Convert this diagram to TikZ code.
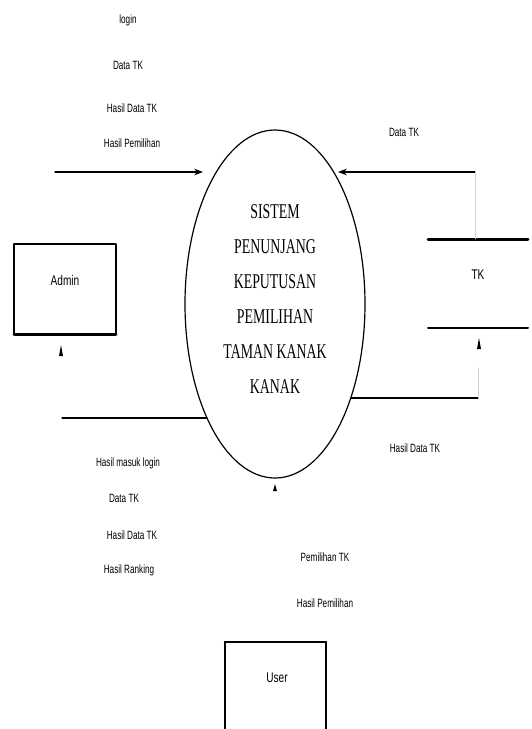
\documentclass[tikz,border=0pt]{standalone}
\usepackage{fontspec}
\setmainfont{Liberation Serif}
\newfontfamily\lblfont{Liberation Sans}
\usetikzlibrary{arrows.meta, shapes.geometric}

\begin{document}
\begin{tikzpicture}[>=Stealth, line cap=round, line join=round, x=1pt, y=-1pt,
    lbl/.style={font=\lblfont\fontsize{12}{12}\selectfont, xscale=0.68, inner sep=0pt},
    ent/.style={font=\lblfont\fontsize{14}{14}\selectfont, xscale=0.72, inner sep=0pt},
    flow/.style={line width=1.3pt},
    faint/.style={gray!35, line width=0.8pt},
    tipmark/.style={fill=black}]

    % ── Page (pixel grid, y downwards) ────────────────────────────────────────
    \useasboundingbox (0,0) rectangle (531,729);

    % ── Process (drawn first) ─────────────────────────────────────────────────
    \node[draw, line width=1.2pt, ellipse, minimum width=180, minimum height=348,
          inner sep=0pt] (proc) at (275,304) {};
    \node[font=\fontsize{21}{35}\selectfont, xscale=0.66, align=center]
        (title) at (275,299)
        {SISTEM\\PENUNJANG\\KEPUTUSAN\\PEMILIHAN\\TAMAN KANAK\\KANAK};

    % ── Entities ──────────────────────────────────────────────────────────────
    % Admin
    \draw[line width=1.6pt] (14,244) rectangle (116,334);
    \draw[line width=3pt] (14,334) -- (116,334);
    \node[ent] (admin) at (65,280) {Admin};

    % User (cut off at the bottom)
    \draw[line width=1.6pt] (225,742) -- (225,642) -- (326,642) -- (326,742);
    \draw[line width=2.4pt] (225,642) -- (326,642);
    \node[ent] (user) at (277,678) {User};

    % Data store TK
    \draw[line width=3pt] (428,239) -- (528,239);
    \draw[line width=2pt] (428,328) -- (528,328);
    \node[ent] (tk) at (478,275) {TK};

    % ── Flow ends ─────────────────────────────────────────────────────────────
    \coordinate (inL)  at (55,172);
    \coordinate (tipL) at (203,172);
    \coordinate (inR)  at (475,172);
    \coordinate (tipR) at (338,172);
    \coordinate (stTop) at (475,239);
    \coordinate (outR) at (351,398);
    \coordinate (cnR)  at (478,398);
    \coordinate (upR)  at (478,368);
    \coordinate (outL) at (207,418);
    \coordinate (endL) at (62,418);

    % ── Flows ─────────────────────────────────────────────────────────────────
    \draw[flow, ->] (inL) -- (tipL);
    \draw[flow, ->] (inR) -- (tipR);
    \draw[faint] (inR) -- (stTop);
    \draw[flow] (outR) -- (cnR);
    \draw[faint] (cnR) -- (upR);
    \draw[flow] (outL) -- (endL);

    % small up marks
    \fill[tipmark] (59,356) -- (61,345) -- (63,356) -- cycle;
    \fill[tipmark] (477,349) -- (479,338) -- (481,349) -- cycle;
    \fill[tipmark] (273,491) -- (275,484) -- (277,491) -- cycle;

    % ── Flow labels ───────────────────────────────────────────────────────────
    \node[lbl] (l1) at (128,20)  {login};
    \node[lbl] (l2) at (128,65)  {Data TK};
    \node[lbl] (l3) at (132,108) {Hasil Data TK};
    \node[lbl] (l4) at (132,143) {Hasil Pemilihan};

    \node[lbl] (r1) at (404,132) {Data TK};
    \node[lbl] (r2) at (415,448) {Hasil Data TK};

    \node[lbl] (b1) at (128,463) {Hasil masuk login};
    \node[lbl] (b2) at (124,498) {Data TK};
    \node[lbl] (b3) at (132,535) {Hasil Data TK};
    \node[lbl] (b4) at (129,570) {Hasil Ranking};

    \node[lbl] (u1) at (325,557) {Pemilihan TK};
    \node[lbl] (u2) at (325,603) {Hasil Pemilihan};

\end{tikzpicture}
\end{document}
